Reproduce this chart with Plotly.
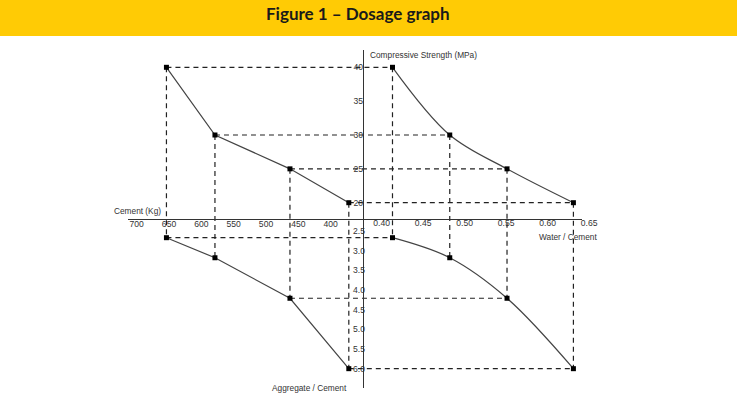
import plotly.graph_objects as go

# ---------------- data ----------------
strength = [40, 30, 25, 20]                 # Compressive Strength (MPa)
cement = [654, 579, 463, 372]               # Cement (Kg)
water_cement = [0.413, 0.482, 0.551, 0.631] # Water / Cement
aggregate_cement = [2.67, 3.18, 4.21, 6.0]  # Aggregate / Cement
lower_guide = [True, False, True, True]     # horizontal guide drawn in lower half

cement_ticks = [700, 650, 600, 550, 500, 450, 400]
wc_ticks = [0.40, 0.45, 0.50, 0.55, 0.60, 0.65]
strength_ticks = [20, 25, 30, 35, 40]
ac_ticks = [2.5, 3.0, 3.5, 4.0, 4.5, 5.0, 5.5, 6.0]

title_text = "Figure 1 – Dosage graph"
cement_title = "Cement (Kg)"
strength_title = "Compressive Strength (MPa)"
wc_title = "Water / Cement"
ac_title = "Aggregate / Cement"

# ---------------- layout geometry ----------------
W, H = 737, 399
ML, MR, MT, MB = 128, 145, 50, 11
PW = W - ML - MR
PH = H - MT - MB

C_RANGE = [713.45, 11.4]
C_DOM = (582 - ML) / PW
W_RANGE = [0.0943, 0.6534]
S_RANGE = [-7.37, 42.555]
A_RANGE = [6.491, -2.101]
X_AXIS_POS = (MT + PH - 219) / PH
Y_AXIS_POS = (363 - ML) / PW


def ax(px):
    return (px - ML) / PW


def ay(py):
    return (MT + PH - py) / PH


def wc_to_cement(w):
    f = (w - W_RANGE[0]) / (W_RANGE[1] - W_RANGE[0])
    return C_RANGE[0] + f / C_DOM * (C_RANGE[1] - C_RANGE[0])


def ac_to_strength(a):
    f = (a - A_RANGE[0]) / (A_RANGE[1] - A_RANGE[0])
    return S_RANGE[0] + f * (S_RANGE[1] - S_RANGE[0])


# ---------------- dashed guide lines ----------------
gx, gy = [], []
for i in range(len(strength)):
    cr = wc_to_cement(water_cement[i])
    sb = ac_to_strength(aggregate_cement[i])
    gx += [cement[i], cr, None]
    gy += [strength[i], strength[i], None]
    gx += [cement[i], cement[i], None]
    gy += [strength[i], sb, None]
    gx += [cr, cr, None]
    gy += [strength[i], sb, None]
    if lower_guide[i]:
        gx += [cement[i], cr, None]
        gy += [sb, sb, None]

DASH = dict(color="#222222", width=1.2, dash="5px,4px")
CURVE = dict(color="#444444", width=1.2)
MARK = dict(symbol="square", size=5, color="#000000")

fig = go.Figure()
fig.add_trace(go.Scatter(x=gx, y=gy, mode="lines", line=DASH,
                         xaxis="x", yaxis="y", hoverinfo="skip"))
fig.add_trace(go.Scatter(x=cement, y=strength, mode="lines+markers",
                         line=CURVE, marker=MARK, xaxis="x", yaxis="y"))
fig.add_trace(go.Scatter(x=water_cement, y=strength, mode="lines+markers",
                         line=dict(CURVE, shape="spline"), marker=MARK,
                         xaxis="x2", yaxis="y"))
fig.add_trace(go.Scatter(x=cement, y=aggregate_cement, mode="lines+markers",
                         line=CURVE, marker=MARK, xaxis="x", yaxis="y2"))
fig.add_trace(go.Scatter(x=water_cement, y=aggregate_cement, mode="lines+markers",
                         line=dict(CURVE, shape="spline"), marker=MARK,
                         xaxis="x2", yaxis="y2"))

TICKFONT = dict(family="Arial, Liberation Sans, sans-serif", size=8.6, color="#333333")
common = dict(showgrid=False, zeroline=False, ticks="", tickfont=TICKFONT, fixedrange=True)

fig.update_layout(
    width=W, height=H,
    margin=dict(l=ML, r=MR, t=MT, b=MB, pad=0),
    paper_bgcolor="white", plot_bgcolor="rgba(0,0,0,0)",
    showlegend=False,
    xaxis=dict(domain=[0, C_DOM], range=C_RANGE, anchor="free", position=X_AXIS_POS,
               showline=True, linecolor="#333333", linewidth=1.3,
               tickmode="array", tickvals=cement_ticks, ticklabelstandoff=-3, **common),
    xaxis2=dict(domain=[0, 1], range=W_RANGE, anchor="free", position=X_AXIS_POS,
                showline=False, tickmode="array", tickvals=wc_ticks, tickformat=".2f",
                ticklabelstandoff=-3, **common),
    yaxis=dict(domain=[0, 1], range=S_RANGE, anchor="free", position=Y_AXIS_POS,
               showline=True, linecolor="#333333", linewidth=1.3,
               tickmode="array", tickvals=strength_ticks, ticklabelstandoff=-2, **common),
    yaxis2=dict(domain=[0, 1], range=A_RANGE, anchor="free", position=Y_AXIS_POS,
                showline=False, tickmode="array", tickvals=ac_ticks, tickformat=".1f",
                ticklabelstandoff=-2, **common),
)

# header band
fig.add_shape(type="rect", xref="paper", yref="paper",
              x0=ax(0), x1=ax(W), y0=ay(36), y1=ay(0),
              fillcolor="#FFCB05", line_width=0, layer="below")

LABFONT = dict(family="Arial, Liberation Sans, sans-serif", size=8.3, color="#333333")
ann = [
    dict(text=title_text, x=ax(358), y=ay(14), xanchor="center", yanchor="middle",
         font=dict(family="Lato, sans-serif", size=17, color="#1a1a1a", weight="bold")),
    dict(text=cement_title, x=ax(162), y=ay(211), xanchor="right", yanchor="middle", font=LABFONT),
    dict(text=strength_title, x=ax(369), y=ay(55), xanchor="left", yanchor="middle", font=LABFONT),
    dict(text=wc_title, x=ax(598), y=ay(237), xanchor="right", yanchor="middle", font=LABFONT),
    dict(text=ac_title, x=ax(348), y=ay(388), xanchor="right", yanchor="middle", font=LABFONT),
]
for a in ann:
    fig.add_annotation(xref="paper", yref="paper", showarrow=False, borderpad=0, **a)

fig.write_html("out.html")
